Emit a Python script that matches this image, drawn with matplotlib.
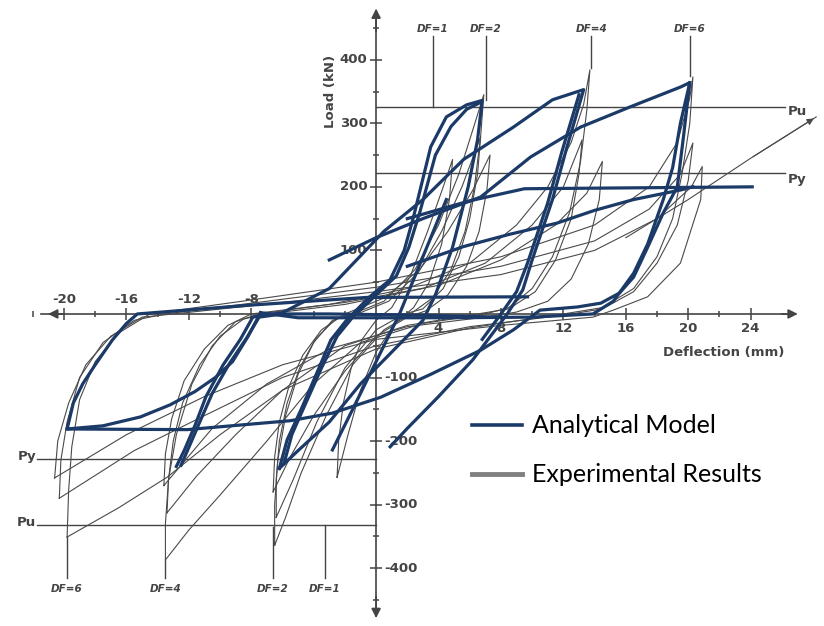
import matplotlib
matplotlib.use("Agg")
import matplotlib.pyplot as plt
from matplotlib.lines import Line2D

# deflection (mm), load (kN)
x_major = [-20, -16, -12, -8, 4, 8, 12, 16, 20, 24]
x_minor = [-22, -18, -14, -10, -6, -4, -2, 2, 6, 10, 14, 18, 22]
y_major = [400, 300, 200, 100, -100, -200, -300, -400]
y_minor = [450, 350, 250, 150, 50, -50, -150, -250, -350, -450]

Pu_pos, Py_pos = 326, 222
Pu_neg, Py_neg = -332, -228
df_pos = {"DF=1": 3.65, "DF=2": 7.05, "DF=4": 13.8, "DF=6": 20.1}
df_pos_low = [326, 337, 387, 375]
df_neg = {"DF=6": -19.8, "DF=4": -13.5, "DF=2": -6.6, "DF=1": -3.3}
df_neg_top = [-351, -387, -335, -332]

# analytical model (thick)
ana_neg6 = [(-7.4, 2), (-8.2, -35), (-9.2, -75), (-10.3, -100), (-11.6, -122), (-13.2, -143),
            (-15.1, -162), (-17.5, -176), (-19.8, -181), (-19.4, -140), (-18.8, -110),
            (-18.0, -80), (-16.9, -41), (-16.0, -15), (-15.3, 0), (-8, 14), (-0.6, 26), (9.7, 27)]
ana_bottom = [(-19.8, -181), (-12.1, -182), (-5.5, -168), (-2.8, -156), (0.3, -131), (3.5, -95),
              (6.7, -57), (8.8, -25), (10.5, 6), (12.9, 11), (14.4, 17), (15.6, 33), (16.5, 58),
              (17.4, 105), (18.4, 159), (19.3, 200), (19.7, 280), (20.1, 364)]
ana_load6 = [(-3, 85), (0, 120), (3, 150), (6.7, 184), (9.9, 247), (13.1, 294), (16.3, 326),
             (19.5, 357), (20.1, 364), (19.5, 300), (19.0, 230), (18.4, 180), (17.4, 110),
             (16.5, 64), (15.2, 20), (13.9, 0), (10, -5), (5, -6), (0, -6), (-5, -6), (-7.4, 2)]
ana_re6 = [(2.0, 75), (5.6, 106), (8.5, 125), (11.6, 143), (14.0, 163), (16.5, 180),
           (19.5, 195), (20.3, 200)]
ana_top = [(2.0, 150), (6.0, 178), (9.5, 197), (24.1, 200)]
ana_df2 = [(-6.2, -243), (-5.7, -198), (-4.8, -150), (-3.8, -93), (-2.9, -41), (-1.9, -10),
           (-0.5, 25), (0.9, 54), (1.8, 100), (2.4, 153), (3.5, 263), (4.5, 310), (5.8, 329),
           (6.8, 336), (6.5, 274), (5.9, 200), (4.9, 105), (3.8, 30), (3.0, -10), (1.0, -60),
           (-1.0, -110), (-3.0, -170), (-5.0, -215), (-6.2, -243)]
ana_df2b = [(-5.9, -235), (-5.4, -190), (-4.5, -140), (-3.5, -85), (-2.5, -35), (-1.5, -5),
            (0.0, 30), (1.3, 60), (2.1, 105), (2.8, 160), (3.8, 250), (4.8, 295), (5.8, 322),
            (6.7, 333)]
ana_df4 = [(-12.8, -240), (-12.3, -215), (-11.6, -175), (-10.9, -130), (-9.8, -80), (-8.7, -40),
           (-7.9, -5), (-6, 2), (-3, 40), (0.5, 130), (3.0, 180), (5.6, 243), (8.8, 294),
           (11.3, 337), (13.3, 353), (12.2, 260), (11.3, 180), (10, 85), (9.4, 38), (8.4, 0),
           (7.3, -36), (6.2, -72), (4, -130), (2, -180), (0.9, -209)]
ana_df4b = [(-12.5, -238), (-12.0, -210), (-11.3, -170), (-10.5, -125), (-9.4, -78), (-8.3, -38),
            (-7.5, -5), (-6.0, 0), (-3, 0), (3, -2), (8.0, -5)]
ana_df4c = [(13.0, 345), (11.9, 255), (11.0, 175), (9.7, 80), (9.0, 35), (8.0, 0), (6.8, -40)]
ana_stub = [(4.5, 180), (3.0, 90), (1.5, 0), (0, -75), (-1.5, -150), (-2.8, -214)]

# experimental results (thin)
exp_6a = [(-19.8, -351), (-19.7, -277), (-19.5, -209), (-19.0, -135), (-18.0, -75), (-16.5, -30),
          (-14.5, 0), (-8, 22), (0, 50), (8, 90), (14, 140), (17.5, 200), (19.3, 270), (20.1, 340),
          (20.3, 373), (20.1, 300), (19.6, 220), (19.0, 150), (18.0, 90), (16.5, 40), (14.5, 10),
          (12, 0), (6, -22), (0, -55), (-6, -120), (-10, -190), (-13.4, -257), (-16.5, -305),
          (-19.8, -351)]
exp_6b = [(-20.3, -290), (-20.2, -230), (-19.8, -170), (-19.0, -100), (-17.5, -45), (-15.5, -10),
          (-13.5, 0), (-7, 20), (0, 42), (8, 75), (14, 115), (17.5, 165), (19.5, 220), (20.3, 269),
          (20.0, 210), (19.3, 140), (18.0, 80), (16.5, 35), (14.5, 8), (12, -2), (6, -20),
          (0, -50), (-6, -100), (-11, -160), (-15.5, -215), (-20.3, -290)]
exp_6c = [(-20.6, -258), (-20.4, -200), (-19.7, -140), (-18.6, -80), (-17.0, -35), (-15.0, -5),
          (-13.0, 0), (-6, 18), (0, 35), (8, 62), (14, 100), (18, 150), (20.2, 200), (20.9, 232),
          (20.8, 180), (19.5, 80), (17.4, 27), (15.2, 6), (13.9, -5), (8, -18), (0, -40),
          (-6, -80), (-11, -130), (-16, -190), (-20.6, -258)]
exp_4a = [(-13.5, -387), (-13.5, -330), (-13.3, -260), (-12.8, -190), (-11.8, -110), (-10.5, -50),
          (-9, -12), (-7.5, 0), (-3, 15), (2, 40), (6, 80), (9, 140), (11, 200), (12.5, 270),
          (13.3, 330), (13.7, 384), (13.5, 320), (13.1, 240), (12.4, 160), (11.3, 90), (10, 40),
          (8.5, 10), (7, 0), (3, -15), (-1, -45), (-4, -110), (-7, -200), (-10, -285),
          (-12, -340), (-13.5, -387)]
exp_4b = [(-13.4, -313), (-13.3, -260), (-13.0, -200), (-12.4, -140), (-11.3, -80), (-10, -35),
          (-8.5, -8), (-7, 0), (-2, 15), (3, 40), (7, 80), (10, 140), (12, 200), (13.2, 274),
          (13.0, 220), (12.5, 150), (11.5, 85), (10.2, 35), (8.5, 8), (6.5, 0), (2, -18),
          (-2, -50), (-6, -120), (-9, -190), (-11.5, -255), (-13.4, -313)]
exp_4c = [(-13.6, -270), (-13.5, -220), (-13.1, -165), (-12.3, -105), (-11, -55), (-9.5, -18),
          (-8, 0), (-2, 18), (4, 45), (8, 85), (11.5, 140), (13.5, 190), (14.5, 240), (14.3, 180),
          (13.6, 110), (12.5, 55), (11, 20), (9, 3), (7, -5), (2, -20), (-3, -55), (-7, -110),
          (-10.5, -180), (-13.6, -270)]
exp_2a = [(-6.5, -364), (-6.5, -300), (-6.3, -230), (-5.8, -160), (-5.0, -95), (-4.0, -45),
          (-2.8, -10), (-1.5, 0), (0.5, 20), (2.5, 70), (4, 140), (5.3, 220), (6.2, 290),
          (6.9, 345), (6.7, 280), (6.3, 200), (5.7, 130), (4.8, 70), (3.6, 25), (2.2, 0),
          (0.5, -25), (-1.5, -80), (-3.2, -160), (-4.8, -250), (-5.8, -320), (-6.5, -364)]
exp_2b = [(-6.4, -320), (-6.4, -260), (-6.2, -200), (-5.7, -140), (-4.9, -85), (-3.9, -40),
          (-2.6, -8), (-1.2, 0), (0.8, 20), (2.7, 65), (4.2, 130), (5.5, 200), (6.7, 279),
          (6.5, 220), (6.0, 150), (5.3, 90), (4.3, 40), (3.0, 8), (1.8, 0), (0, -25), (-2, -85),
          (-3.8, -170), (-5.3, -260), (-6.4, -320)]
exp_2c = [(-6.6, -280), (-6.5, -225), (-6.2, -170), (-5.6, -115), (-4.7, -65), (-3.5, -25),
          (-2.0, 0), (0.5, 25), (2.8, 70), (4.6, 130), (6.2, 195), (7.3, 250), (7.1, 195),
          (6.6, 130), (5.8, 75), (4.6, 30), (3.2, 5), (2.0, -5), (0, -35), (-2, -90), (-4, -160),
          (-5.5, -225), (-6.6, -280)]
exp_1 = [(-2.5, -257), (-2.4, -200), (-2.1, -140), (-1.6, -85), (-0.9, -40), (0, -10), (1, 10),
         (2.2, 60), (3.3, 130), (4.3, 200), (4.9, 243), (4.7, 180), (4.2, 110), (3.4, 50),
         (2.4, 10), (1.2, -15), (0, -60), (-1, -120), (-1.8, -190), (-2.5, -257)]
exp_trend = [(16, 120), (20, 180), (24, 245), (28.2, 310)]

analytical = [ana_neg6, ana_bottom, ana_load6, ana_re6, ana_top, ana_df2, ana_df2b, ana_df4,
              ana_df4b, ana_df4c, ana_stub]
experimental = [exp_6a, exp_6b, exp_6c, exp_4a, exp_4b, exp_4c, exp_2a, exp_2b, exp_2c, exp_1]

navy = "#1b3a68"
grey = "#4a4a4a"
axc = "#444444"

fig = plt.figure(figsize=(8.24, 6.26), dpi=100)
ax = fig.add_axes([0, 0, 1, 1])
ax.set_xlim(-24.1, 28.7)
ax.set_ylim(-491, 494)

# axes through the origin
for s in ["top", "right"]:
    ax.spines[s].set_visible(False)
ax.spines["left"].set_position(("data", 0))
ax.spines["bottom"].set_position(("data", 0))
ax.spines["bottom"].set_bounds(-21.5, 26.5)
ax.spines["left"].set_bounds(-475, 470)
for s in ["left", "bottom"]:
    ax.spines[s].set_color(axc)
    ax.spines[s].set_linewidth(1.2)
ax.set_xticks(x_major)
ax.set_xticks(x_minor, minor=True)
ax.set_yticks(y_major)
ax.set_yticks(y_minor, minor=True)
ax.tick_params(which="major", direction="inout", length=9, width=1.1, color=axc,
               labelbottom=False, labelleft=False)
ax.tick_params(which="minor", direction="inout", length=4, width=1.1, color=axc)
ax.annotate("", xy=(27.2, 0), xytext=(25.8, 0),
            arrowprops=dict(arrowstyle="-|>", color=axc, lw=1.2, mutation_scale=14))
ax.annotate("", xy=(-21.2, 0), xytext=(-19.8, 0),
            arrowprops=dict(arrowstyle="-|>", color=axc, lw=1.2, mutation_scale=14))
ax.annotate("", xy=(0, 485), xytext=(0, 440),
            arrowprops=dict(arrowstyle="-|>", color=axc, lw=1.2, mutation_scale=14))
ax.annotate("", xy=(0, -483), xytext=(0, -440),
            arrowprops=dict(arrowstyle="-|>", color=axc, lw=1.2, mutation_scale=14))

tick_font = dict(fontsize=9.5, color="#444444", family="DejaVu Sans", weight="bold")
for v in x_major:
    if v < 0:
        ax.text(v, 13, str(v), ha="center", va="bottom", **tick_font)
    else:
        ax.text(v, -13, str(v), ha="center", va="top", **tick_font)
for v in y_major:
    if v > 0:
        ax.text(-0.55, v, str(v), ha="right", va="center", **tick_font)
    else:
        ax.text(0.55, v, "-" + str(-v), ha="left", va="center", **tick_font)
ax.text(22.3, -60, "Deflection (mm)", ha="center", va="center", **tick_font)
ax.text(-2.95, 350, "Load (kN)", ha="center", va="center", rotation=90, **tick_font)

# Pu / Py lines
ax.plot([0, 26.2], [Pu_pos, Pu_pos], color=axc, lw=1.0)
ax.plot([0, 26.2], [Py_pos, Py_pos], color=axc, lw=1.0)
ax.plot([-21.7, 0], [Pu_neg, Pu_neg], color=axc, lw=1.0)
ax.plot([-21.7, 0], [Py_neg, Py_neg], color=axc, lw=1.0)
ax.text(26.4, Pu_pos - 8, "Pu", ha="left", va="center", **tick_font)
ax.text(26.4, Py_pos - 10, "Py", ha="left", va="center", **tick_font)
ax.text(-21.8, Pu_neg + 4, "Pu", ha="right", va="center", **tick_font)
ax.text(-21.8, Py_neg + 4, "Py", ha="right", va="center", **tick_font)

df_font = dict(fontsize=7.5, color="#444444", style="italic", family="DejaVu Sans",
               weight="bold")
for (lab, d), low in zip(df_pos.items(), df_pos_low):
    ax.plot([d, d], [437, low], color=axc, lw=1.0)
    ax.text(d, 441, lab, ha="center", va="bottom", **df_font)
for (lab, d), top in zip(df_neg.items(), df_neg_top):
    ax.plot([d, d], [top, -416], color=axc, lw=1.0)
    ax.text(d, -425, lab, ha="center", va="top", **df_font)

for path in experimental:
    xs, ys = zip(*path)
    ax.plot(xs, ys, color=grey, lw=0.8, zorder=3)
xs, ys = zip(*exp_trend)
ax.plot(xs, ys, color=grey, lw=0.8, zorder=3)
ax.annotate("", xy=exp_trend[-1], xytext=exp_trend[-2],
            arrowprops=dict(arrowstyle="-|>", color=grey, lw=0.8, mutation_scale=10))

for path in analytical:
    xs, ys = zip(*path)
    ax.plot(xs, ys, color=navy, lw=2.3, zorder=4, solid_joinstyle="round")

handles = [Line2D([], [], color=navy, lw=2.6), Line2D([], [], color="#808080", lw=3.5)]
ax.legend(handles, ["Analytical Model", "Experimental Results"], loc="upper left",
          bbox_to_anchor=(0.545, 0.374), frameon=False, handlelength=2.0, handletextpad=0.4,
          labelspacing=1.04, prop={"family": "Lato", "size": 18})

fig.savefig("out.png", dpi=100, facecolor="white")
